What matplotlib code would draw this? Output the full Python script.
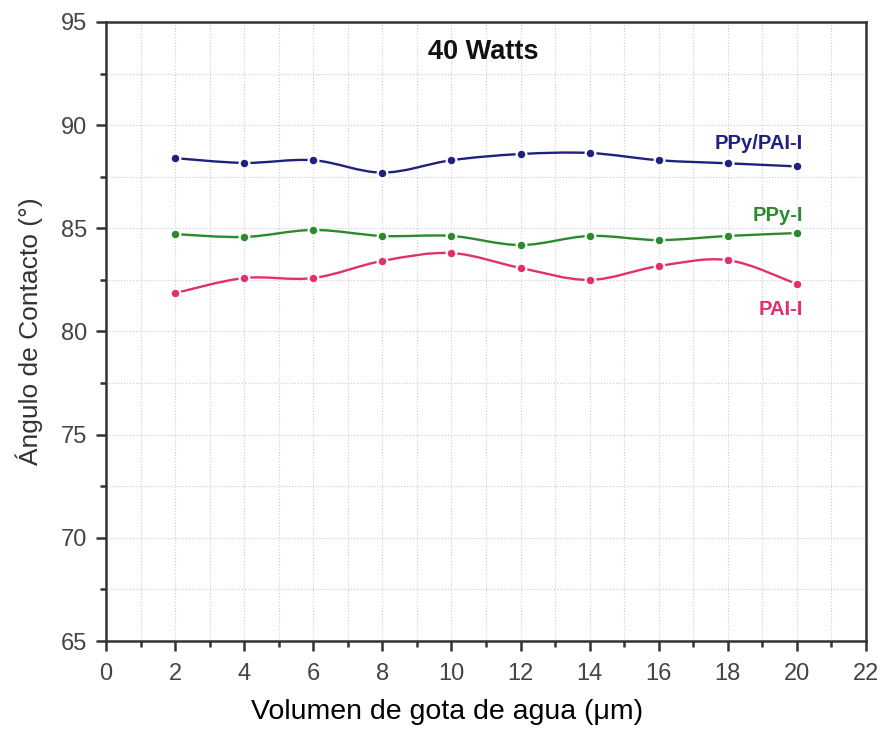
import matplotlib
matplotlib.use("Agg")
import matplotlib.pyplot as plt
from matplotlib.path import Path
from matplotlib.patches import PathPatch
from matplotlib.ticker import MultipleLocator
import numpy as np

plt.rcParams['font.family'] = ['Liberation Sans', 'DejaVu Sans']

# data
volumen = [2, 4, 6, 8, 10, 12, 14, 16, 18, 20]
ppy_pai = [88.4, 88.17, 88.3, 87.7, 88.3, 88.6, 88.65, 88.3, 88.15, 88.0]
ppy = [84.72, 84.58, 84.92, 84.63, 84.63, 84.19, 84.63, 84.43, 84.63, 84.77]
pai = [81.86, 82.59, 82.59, 83.42, 83.8, 83.08, 82.5, 83.17, 83.46, 82.3]

series = [
    ("PPy/PAI-I", ppy_pai, "#20207e", (20.17, 89.1)),
    ("PPy-I", ppy, "#2b8a2b", (20.17, 85.6)),
    ("PAI-I", pai, "#e2306f", (20.17, 81.05)),
]


def smooth_path(x, y):
    # Catmull-Rom segments written as cubic Bezier curves
    x = np.asarray(x, float)
    y = np.asarray(y, float)
    pts = np.column_stack([x, y])
    verts = [pts[0]]
    codes = [Path.MOVETO]
    n = len(pts)
    for i in range(n - 1):
        p0 = pts[i - 1] if i > 0 else pts[i]
        p1 = pts[i]
        p2 = pts[i + 1]
        p3 = pts[i + 2] if i + 2 < n else pts[i + 1]
        c1 = p1 + (p2 - p0) / 6.0
        c2 = p2 - (p3 - p1) / 6.0
        verts += [c1, c2, p2]
        codes += [Path.CURVE4] * 3
    return Path(verts, codes)


fig = plt.figure(figsize=(8.86, 7.42), dpi=100)
ax = fig.add_axes([0.1196, 0.1361, 0.8578, 0.8343])

for name, vals, col, (tx, ty) in series:
    ax.add_patch(PathPatch(smooth_path(volumen, vals), fill=False,
                           edgecolor=col, lw=1.7, zorder=3))
    ax.plot(volumen, vals, 'o', color=col, markersize=7,
            markeredgecolor='white', markeredgewidth=1.6, zorder=4)
    ax.text(tx, ty, name, color=col, fontsize=14.5, fontweight='bold',
            ha='right', va='center')

ax.text(10.93, 93.55, "40 Watts", fontsize=19.5, fontweight='bold',
        ha='center', va='center', color='#111111')

ax.set_xlim(0, 22)
ax.set_ylim(65, 95)
ax.xaxis.set_major_locator(MultipleLocator(2))
ax.xaxis.set_minor_locator(MultipleLocator(1))
ax.yaxis.set_major_locator(MultipleLocator(5))
ax.yaxis.set_minor_locator(MultipleLocator(2.5))

ax.grid(True, which='both', linestyle=':', color='#cccccc', lw=0.8)
ax.set_axisbelow(True)

for s in ax.spines.values():
    s.set_linewidth(1.8)
    s.set_color('#333333')

ax.tick_params(which='major', direction='out', length=7.5, width=1.8,
               labelsize=17, labelcolor='#444444', color='#333333', pad=6)
ax.tick_params(axis='x', which='major', pad=8)
ax.tick_params(which='minor', direction='out', length=4.5, width=1.8,
               color='#333333')

ax.set_xlabel("Volumen de gota de agua (μm)", fontsize=20.5, labelpad=12)
ax.xaxis.set_label_coords(0.449, -0.094)
ax.set_ylabel("Ángulo de Contacto (°)", fontsize=19, labelpad=13,
              color='#333333')

fig.savefig("out.png", dpi=100)
